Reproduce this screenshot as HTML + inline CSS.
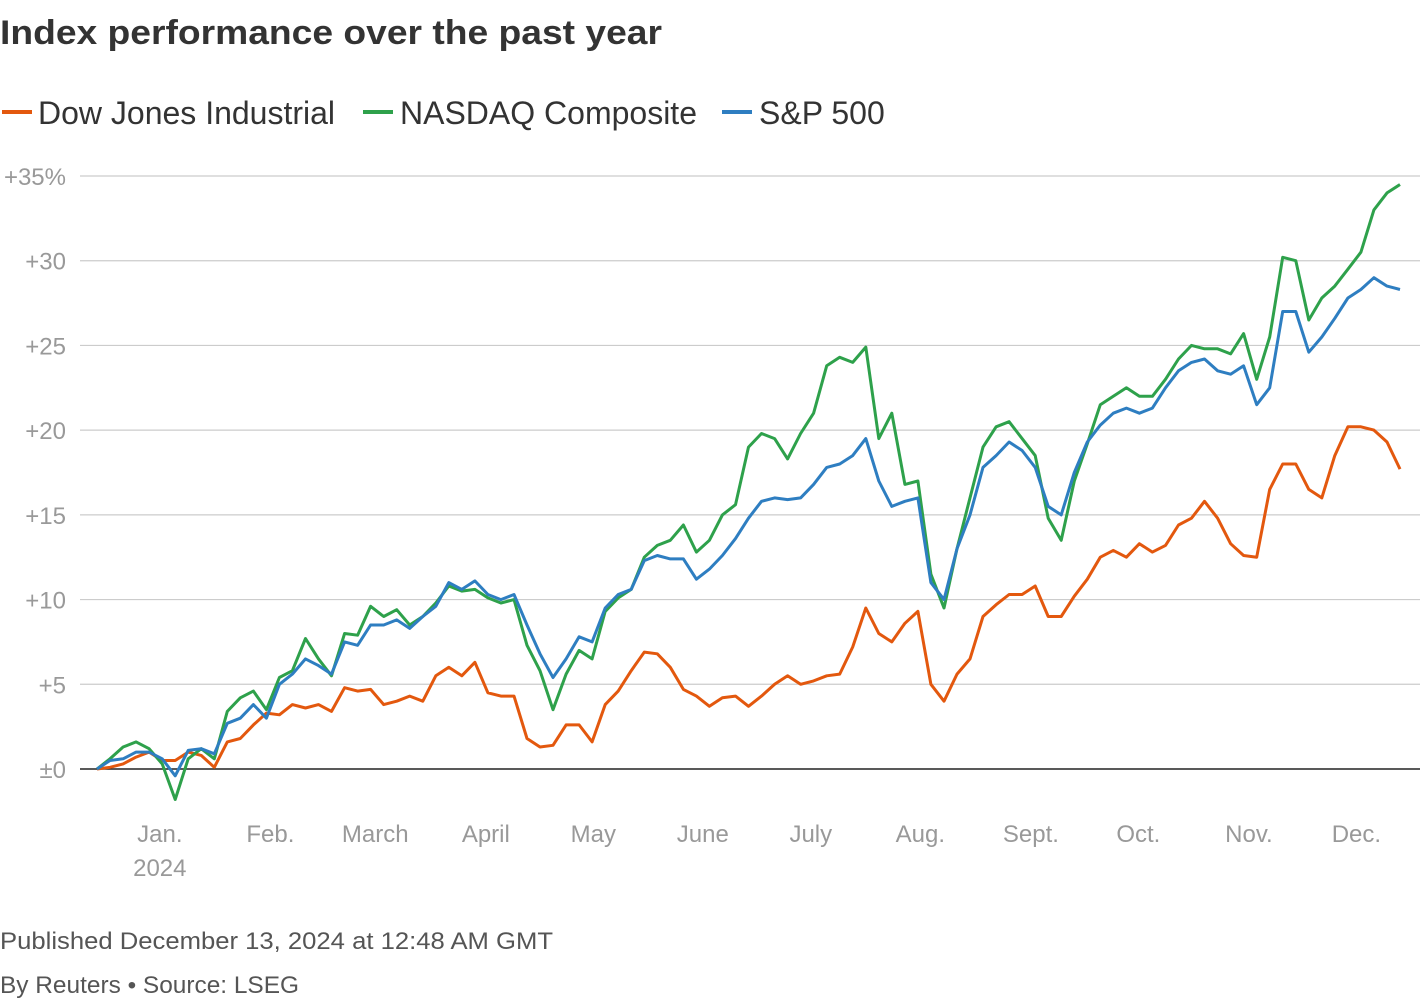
<!DOCTYPE html>
<html><head><meta charset="utf-8"><style>
html,body{margin:0;padding:0;background:#fff;}
svg{display:block;font-family:"Liberation Sans",sans-serif;}
</style></head><body>
<svg id="chart" width="1420" height="1000" viewBox="0 0 1420 1000">
<text x="0" y="44" font-size="34" font-weight="bold" fill="#333" textLength="662" lengthAdjust="spacingAndGlyphs">Index performance over the past year</text>
<g>
 <g><line x1="2" y1="112" x2="32" y2="112" stroke="#e3580e" stroke-width="4"/><text x="38" y="124" font-size="32" fill="#333">Dow Jones Industrial</text></g>
 <g><line x1="363" y1="112" x2="393" y2="112" stroke="#2ea14b" stroke-width="4"/><text x="400" y="124" font-size="32" fill="#333">NASDAQ Composite</text></g>
 <g><line x1="722" y1="112" x2="752" y2="112" stroke="#2e7ec1" stroke-width="4"/><text x="759" y="124" font-size="32" fill="#333">S&amp;P 500</text></g>
</g>
<g id="grid"></g>
<g id="yticks"></g>
<g id="xticks"></g>
<g id="series"></g>
<text x="0" y="949" font-size="24" fill="#555" textLength="553" lengthAdjust="spacingAndGlyphs">Published December 13, 2024 at 12:48 AM GMT</text>
<text x="0" y="993" font-size="24" fill="#555" textLength="299" lengthAdjust="spacingAndGlyphs">By Reuters • Source: LSEG</text>
</svg>
<script>
const yTicks=[0,5,10,15,20,25,30,35];
const yTickLabels=["±0","+5","+10","+15","+20","+25","+30","+35%"];
const months=["Jan.","Feb.","March","April","May","June","July","Aug.","Sept.","Oct.","Nov.","Dec."];
const monthPos=[12.1,33.4,53.6,74.9,95.6,116.7,137.5,158.6,179.9,200.6,221.9,242.6];
const sp500=[0,0.5,0.6,1.0,1.0,0.6,-0.4,1.1,1.2,0.9,2.7,3.0,3.8,3.0,5.0,5.6,6.5,6.1,5.6,7.5,7.3,8.5,8.5,8.8,8.3,9.0,9.6,11.0,10.6,11.1,10.3,10.0,10.3,8.5,6.8,5.4,6.5,7.8,7.5,9.5,10.3,10.6,12.3,12.6,12.4,12.4,11.2,11.8,12.6,13.6,14.8,15.8,16.0,15.9,16.0,16.8,17.8,18.0,18.5,19.5,17.0,15.5,15.8,16.0,11.0,10.0,13.0,15.0,17.8,18.5,19.3,18.8,17.8,15.5,15.0,17.5,19.3,20.3,21.0,21.3,21.0,21.3,22.5,23.5,24.0,24.2,23.5,23.3,23.8,21.5,22.5,27.0,27.0,24.6,25.5,26.6,27.8,28.3,29.0,28.5,28.3];
const nasdaq=[0,0.6,1.3,1.6,1.2,0.3,-1.8,0.6,1.2,0.6,3.4,4.2,4.6,3.5,5.4,5.8,7.7,6.5,5.5,8.0,7.9,9.6,9.0,9.4,8.5,9.0,9.8,10.8,10.5,10.6,10.1,9.8,10.0,7.3,5.8,3.5,5.6,7.0,6.5,9.3,10.1,10.6,12.5,13.2,13.5,14.4,12.8,13.5,15.0,15.6,19.0,19.8,19.5,18.3,19.8,21.0,23.8,24.3,24.0,24.9,19.5,21.0,16.8,17.0,11.5,9.5,13.0,16.0,19.0,20.2,20.5,19.5,18.5,14.8,13.5,17.0,19.2,21.5,22.0,22.5,22.0,22.0,23.0,24.2,25.0,24.8,24.8,24.5,25.7,23.0,25.5,30.2,30.0,26.5,27.8,28.5,29.5,30.5,33.0,34.0,34.5];
const dow=[0,0.1,0.3,0.7,1.0,0.5,0.5,1.0,0.8,0.1,1.6,1.8,2.6,3.3,3.2,3.8,3.6,3.8,3.4,4.8,4.6,4.7,3.8,4.0,4.3,4.0,5.5,6.0,5.5,6.3,4.5,4.3,4.3,1.8,1.3,1.4,2.6,2.6,1.6,3.8,4.6,5.8,6.9,6.8,6.0,4.7,4.3,3.7,4.2,4.3,3.7,4.3,5.0,5.5,5.0,5.2,5.5,5.6,7.2,9.5,8.0,7.5,8.6,9.3,5.0,4.0,5.6,6.5,9.0,9.7,10.3,10.3,10.8,9.0,9.0,10.2,11.2,12.5,12.9,12.5,13.3,12.8,13.2,14.4,14.8,15.8,14.8,13.3,12.6,12.5,16.5,18.0,18.0,16.5,16.0,18.5,20.2,20.2,20.0,19.3,17.7];
const NS="http://www.w3.org/2000/svg";
const x0=97,x1=1400,yZero=769,yPer=(769-176)/35;
const N=sp500.length;
function xScale(i){return x0+(x1-x0)*i/(N-1);}
function xDay(d){return x0+(x1-x0)*d/251;}
function yScale(v){return yZero-v*yPer;}
function mk(tag,attrs,parent){const e=document.createElementNS(NS,tag);for(const k in attrs)e.setAttribute(k,attrs[k]);parent.appendChild(e);return e;}
const grid=document.getElementById('grid'),yt=document.getElementById('yticks'),xt=document.getElementById('xticks'),ser=document.getElementById('series');
yTicks.forEach((v,i)=>{
 const l=mk('line',{x1:80,x2:1420,y1:yScale(v),y2:yScale(v),stroke:v===0?'#222':'#ccc','stroke-width':v===0?1.5:1.2},grid);
 
 
 const t=mk('text',{x:66,y:yScale(v)+9,'text-anchor':'end','font-size':24,fill:'#999'},yt);
 t.textContent=yTickLabels[i];
 
 
});
months.forEach((m,i)=>{
 const t=mk('text',{x:xDay(monthPos[i]),y:842,'text-anchor':'middle','font-size':24,fill:'#999'},xt);
 t.textContent=m;
 
 
});
const yr=mk('text',{x:xDay(monthPos[0]),y:876,'text-anchor':'middle','font-size':24,fill:'#999'},xt);
yr.textContent='2024';


[[dow,'#e3580e','dow-line'],[nasdaq,'#2ea14b','nasdaq-line'],[sp500,'#2e7ec1','sp500-line']].forEach(([d,c,n])=>{
 const p=mk('path',{d:d.map((v,i)=>(i?'L':'M')+xScale(i).toFixed(1)+','+yScale(v).toFixed(1)).join(''),fill:'none',stroke:c,'stroke-width':3,'stroke-linejoin':'round'},ser);
 
 
});
</script>
</body></html>
